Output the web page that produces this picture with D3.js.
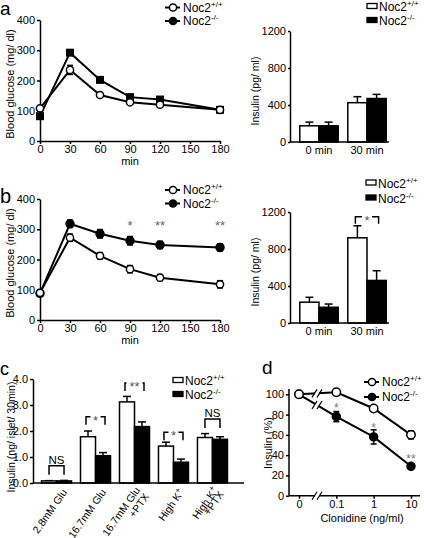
<!DOCTYPE html>
<html><head><meta charset="utf-8">
<script src="https://cdn.jsdelivr.net/npm/d3@7"></script>
<style>body{margin:0;background:#fff} svg{display:block} text{font-family:"Liberation Sans",Arial,Helvetica,sans-serif;fill:#000}</style>
</head><body>
<svg id="c" width="424" height="538"></svg>
<script>
// ---------- data ----------
const times = [0, 30, 60, 90, 120, 180];
const timeTicks = [0, 30, 60, 90, 120, 150, 180];
const glucoseTicks = [0, 100, 200, 300, 400];
const aWT = [108, 235, 152, 128, 120, 103];
const aWTerr = [5, 15, 6, 5, 5, 4];
const aKO = [82, 292, 202, 145, 137, 103];
const aKOerr = [8, 8, 6, 6, 6, 4];
const bWT = [90, 272, 212, 168, 140, 118];
const bWTerr = [8, 12, 10, 12, 10, 12];
const bKO = [88, 318, 285, 262, 248, 240];
const bKOerr = [8, 12, 14, 14, 12, 12];
const bStarTimes = [90, 120, 180];
const bStarText = ["*", "**", "**"];
const bStarLevel = 322;

const insGroups = ["0 min", "30 min"];
const insTicks = [0, 400, 800, 1200];
const aInsWT = [175, 425], aInsWTerr = [40, 65];
const aInsKO = [175, 470], aInsKOerr = [40, 45];
const bInsWT = [225, 921], bInsWTerr = [53, 130];
const bInsKO = [170, 460], bInsKOerr = [35, 105];
const bInsSig = [null, "*"], bInsSigLevel = [null, 1150];

const cGroups = ["2.8mM Glu", "16.7mM Glu", "16.7mM Glu|+PTX", "High K+", "High K+|+PTX"];
const cTicks = [0, 1, 2, 3, 4];
const cWT = [0.08, 1.78, 3.12, 1.42, 1.75];
const cWTerr = [0.01, 0.22, 0.21, 0.15, 0.15];
const cKO = [0.08, 1.05, 2.17, 0.80, 1.68];
const cKOerr = [0.02, 0.12, 0.18, 0.12, 0.10];
const cSig = ["NS", "*", "**", "*", "NS"];
const cSigLevel = [0.66, 2.55, 3.85, 1.95, 2.46];

const dDoses = ["0", "0.1", "1", "10"];
const dTicks = [0, 20, 40, 60, 80, 100];
const dWT = [100, 102, 86, 60], dWTerr = [3, 3, 2, 4];
const dKO = [100, 78, 58, 29], dKOerr = [3, 5, 7, 2];
const dStar = [null, "*", "*", "**"], dStarLevel = [null, 86, 67, 36];

// ---------- helpers ----------
const svg = d3.select("#c");
const F = 11;
function styleAxis(g) {
  g.selectAll("path,line").attr("stroke", "#000").attr("stroke-width", 1.5);
  g.selectAll("text").attr("font-size", F).attr("font-family", '"Liberation Sans",Arial,sans-serif');
}
function label(x, y, t, size, anchor, rot, fill) {
  const s = svg.append("text").attr("x", x).attr("y", y).attr("font-size", size)
    .attr("text-anchor", anchor || "start").text(t);
  if (rot) s.attr("transform", `rotate(${rot},${x},${y})`);
  if (fill) s.style("fill", fill);
  return s;
}
function nocText(x, y, sup) {
  const t = svg.append("text").attr("x", x).attr("y", y).attr("font-size", 12);
  t.append("tspan").text("Noc2");
  t.append("tspan").attr("font-size", 8).attr("dy", -5).text(sup);
  return t;
}
function lineLegend(x, y1, y2) {
  [[y1, "#fff", "+/+"], [y2, "#000", "-/-"]].forEach(([y, f, s]) => {
    svg.append("line").attr("x1", x).attr("x2", x + 15).attr("y1", y - 4).attr("y2", y - 4).attr("stroke", "#000").attr("stroke-width", 2);
    svg.append("circle").attr("cx", x + 8).attr("cy", y - 4).attr("r", 3.6).attr("fill", f).attr("stroke", "#000").attr("stroke-width", 1.5);
    nocText(x + 18, y, s);
  });
}
function barLegend(x, y1, y2) {
  [[y1, "#fff", "+/+"], [y2, "#000", "-/-"]].forEach(([y, f, s]) => {
    svg.append("rect").attr("x", x).attr("y", y - 7.5).attr("width", 10).attr("height", 5).attr("fill", f).attr("stroke", "#000").attr("stroke-width", 1.3);
    nocText(x + 12, y, s);
  });
}
function errBar(g, x, y0, y1, cap, both, y2) {
  g.append("line").attr("x1", x).attr("x2", x).attr("y1", both ? y2 : y0).attr("y2", y1).attr("stroke", "#000").attr("stroke-width", 1.5);
  g.append("line").attr("x1", x - cap / 2).attr("x2", x + cap / 2).attr("y1", y1).attr("y2", y1).attr("stroke", "#000").attr("stroke-width", 1.5);
  if (both) g.append("line").attr("x1", x - cap / 2).attr("x2", x + cap / 2).attr("y1", y2).attr("y2", y2).attr("stroke", "#000").attr("stroke-width", 1.5);
}
function sigBracket(g, xa, xb, yy, s, leg) {
  const xm = (xa + xb) / 2, gap = s.length * 3 + 2;
  g.append("path").attr("d", `M${xa},${yy + leg}V${yy}H${xm - gap}M${xm + gap},${yy}H${xb}V${yy + leg}`)
    .attr("fill", "none").attr("stroke", "#000").attr("stroke-width", 1.5);
  label(xm, yy + 8, s, 13, "middle", 0, "#555");
}

// ---------- glucose line panels ----------
function glucosePanel(cfg) {
  const x = d3.scaleLinear().domain([0, 180]).range([40, 220]);
  const y = d3.scaleLinear().domain([0, 400]).range([cfg.y0, cfg.y0 - 121]);
  const g = svg.append("g");
  g.append("g").attr("transform", `translate(0,${cfg.y0})`)
    .call(d3.axisBottom(x).tickValues(timeTicks).tickSize(3).tickSizeOuter(0).tickPadding(1)).call(styleAxis);
  g.append("g").attr("transform", `translate(40,0)`)
    .call(d3.axisLeft(y).tickValues(glucoseTicks).tickSize(3).tickSizeOuter(0).tickPadding(2)).call(styleAxis);
  label(130, cfg.y0 + 23.5, "min", F, "middle");
  label(14, cfg.y0 - 57, "Blood glucose (mg/ dl)", F, "middle", -90);
  const line = d3.line().x((d, i) => x(times[i])).y(d => y(d));
  [cfg.wt, cfg.ko].forEach(vals => {
    g.append("path").attr("d", line(vals)).attr("fill", "none").attr("stroke", "#000").attr("stroke-width", 2);
  });
  [[cfg.ko, cfg.koErr, "ko"], [cfg.wt, cfg.wtErr, "wt"]].forEach(([vals, err, k]) => {
    vals.forEach((v, i) => {
      errBar(g, x(times[i]), y(v), y(v + err[i]), 6, true, y(v - err[i]));
      if (k === "ko" && cfg.square) {
        g.append("rect").attr("x", x(times[i]) - 4).attr("y", y(v) - 4).attr("width", 8).attr("height", 8).attr("fill", "#000");
      } else {
        g.append("circle").attr("cx", x(times[i])).attr("cy", y(v)).attr("r", k === "ko" ? 4 : 3.6)
          .attr("fill", k === "ko" ? "#000" : "#fff").attr("stroke", "#000").attr("stroke-width", 1.5);
      }
    });
  });
  if (cfg.stars) cfg.stars.forEach((s, i) => {
    label(x(cfg.starTimes[i]), y(cfg.starLevel) + 7, s, 13, "middle", 0, "#666");
  });
}
glucosePanel({ y0: 141, wt: aWT, wtErr: aWTerr, ko: aKO, koErr: aKOerr, square: true });
glucosePanel({ y0: 320, wt: bWT, wtErr: bWTerr, ko: bKO, koErr: bKOerr, stars: bStarText, starTimes: bStarTimes, starLevel: bStarLevel });
lineLegend(165, 11.5, 25);
lineLegend(165, 194, 207.5);

// ---------- insulin bar panels ----------
function insPanel(cfg) {
  const xg = d3.scaleBand().domain(insGroups).range([295, 391]).paddingInner(0.2).paddingOuter(0.1);
  const y = d3.scaleLinear().domain([0, 1200]).range([cfg.y0, cfg.y0 - 111]);
  const g = svg.append("g");
  const bw = xg.bandwidth() / 2;
  insGroups.forEach((grp, i) => {
    [[cfg.wt, cfg.wtErr, "#fff", 0], [cfg.ko, cfg.koErr, "#000", 1]].forEach(([v, e, f, j]) => {
      const bx = xg(grp) + j * bw;
      errBar(g, bx + bw / 2, y(v[i]), y(v[i] + e[i]), 8);
      g.append("rect").attr("x", bx).attr("y", y(v[i])).attr("width", bw).attr("height", cfg.y0 - y(v[i]))
        .attr("fill", f).attr("stroke", "#000").attr("stroke-width", 1.5);
    });
    if (cfg.sig && cfg.sig[i]) {
      sigBracket(g, xg(grp) + bw / 2 - 2, xg(grp) + 1.5 * bw + 2, y(cfg.sigLevel[i]), cfg.sig[i], 7);
    }
  });
  g.append("g").attr("transform", `translate(0,${cfg.y0})`)
    .call(d3.axisBottom(xg).tickSize(0).tickPadding(4)).call(styleAxis).call(a => a.select(".domain").remove());
  g.append("line").attr("x1", 290).attr("x2", 389).attr("y1", cfg.y0).attr("y2", cfg.y0).attr("stroke", "#000").attr("stroke-width", 1.5);
  g.append("g").attr("transform", `translate(290,0)`)
    .call(d3.axisLeft(y).tickValues(insTicks).tickFormat(d3.format("d")).tickSize(2).tickSizeOuter(0).tickPadding(2)).call(styleAxis);
  label(259, cfg.y0 - 51, "Insulin (pg/ ml)", 10.5, "middle", -90);
}
insPanel({ y0: 142, wt: aInsWT, wtErr: aInsWTerr, ko: aInsKO, koErr: aInsKOerr });
insPanel({ y0: 323, wt: bInsWT, wtErr: bInsWTerr, ko: bInsKO, koErr: bInsKOerr, sig: bInsSig, sigLevel: bInsSigLevel });
barLegend(367, 11, 25);
barLegend(366, 187.5, 202.5);

// ---------- panel c ----------
(function () {
  const xg = d3.scaleBand().domain(cGroups).range([31, 238]).paddingInner(0.23).paddingOuter(0.27);
  const y = d3.scaleLinear().domain([0, 4]).range([483, 379]);
  const g = svg.append("g");
  const bw = xg.bandwidth() / 2;
  cGroups.forEach((grp, i) => {
    [[cWT, cWTerr, "#fff", 0], [cKO, cKOerr, "#000", 1]].forEach(([v, e, f, j]) => {
      const bx = xg(grp) + j * bw;
      errBar(g, bx + bw / 2, y(v[i]), y(v[i] + e[i]), 8);
      g.append("rect").attr("x", bx).attr("y", y(v[i])).attr("width", bw).attr("height", 483 - y(v[i]))
        .attr("fill", f).attr("stroke", "#000").attr("stroke-width", 1.5);
    });
    const yy = y(cSigLevel[i]);
    if (cSig[i] === "NS") {
      const xa = xg(grp) + bw / 2, xb = xg(grp) + 1.5 * bw, xm = (xa + xb) / 2;
      g.append("path").attr("d", `M${xa},${yy + 9}V${yy}H${xb}V${yy + 9}`).attr("fill", "none").attr("stroke", "#000").attr("stroke-width", 1.5);
      label(xm, yy - 2, "NS", 11.5, "middle");
    } else {
      sigBracket(g, xg(grp) + bw / 2 - 2, xg(grp) + 1.5 * bw + 2, yy, cSig[i], 8);
    }
    // rotated category labels
    const parts = grp.split("|");
    const cx = xg(grp) + xg.bandwidth() / 2 + 5;
    const t = svg.append("text").attr("font-size", 10.5).attr("text-anchor", "end")
      .attr("transform", `translate(${cx - (parts.length - 1) * 5},${488 - (parts.length - 1) * 2}) rotate(-55)`);
    parts.forEach((p, k) => {
      const ts = t.append("tspan").attr("x", 0).attr("dy", k === 0 ? "0.7em" : "1.05em");
      if (p.endsWith("K+")) {
        ts.text(p.slice(0, -1));
        t.append("tspan").attr("font-size", 8).attr("dy", -4).text("+");
        t.append("tspan").attr("font-size", 10.5).attr("dy", 4).text("");
      } else ts.text(p);
    });
  });
  g.append("line").attr("x1", 33).attr("x2", 244).attr("y1", 483).attr("y2", 483).attr("stroke", "#000").attr("stroke-width", 1.5);
  g.append("g").attr("transform", `translate(33,0)`)
    .call(d3.axisLeft(y).tickValues(cTicks).tickSize(3).tickSizeOuter(0).tickPadding(2)).call(styleAxis);
  label(15, 437, "Insulin (ng/ islet/ 30min)", 10.5, "middle", -90);
  barLegend(173, 385, 399);
})();

// ---------- panel d ----------
(function () {
  const x = d3.scalePoint().domain(dDoses).range([299, 411]);
  const y = d3.scaleLinear().domain([0, 100]).range([495.7, 394.3]);
  const g = svg.append("g");
  g.append("g").attr("transform", `translate(0,495.7)`)
    .call(d3.axisBottom(x).tickSize(3).tickSizeOuter(0).tickPadding(2)).call(styleAxis).call(a => a.select(".domain").remove());
  g.append("line").attr("x1", 289).attr("x2", 420).attr("y1", 495.7).attr("y2", 495.7).attr("stroke", "#000").attr("stroke-width", 1.5);
  g.append("g").attr("transform", `translate(289,0)`)
    .call(d3.axisLeft(y).tickValues(dTicks).tickSize(3).tickSizeOuter(0).tickPadding(2)).call(styleAxis)
    .call(a => a.select(".domain").attr("d", "M0,389V495.7"));
  label(362, 522, "Clonidine (ng/ml)", F, "middle");
  label(272, 443, "Insulin (%)", F, "middle", -90);
  const line = d3.line().x((d, i) => x(dDoses[i])).y(d => y(d));
  g.append("path").attr("d", line(dWT)).attr("fill", "none").attr("stroke", "#000").attr("stroke-width", 2);
  g.append("path").attr("d", line(dKO)).attr("fill", "none").attr("stroke", "#000").attr("stroke-width", 2);
  // axis break marks
  const bx = 317;
  const br = (yy) => {
    g.append("rect").attr("x", bx - 2).attr("y", yy - 5).attr("width", 4).attr("height", 10).attr("fill", "#fff");
    [-2.5, 2.5].forEach(o => g.append("line").attr("x1", bx + o - 2.5).attr("x2", bx + o + 2.5).attr("y1", yy + 4).attr("y2", yy - 4).attr("stroke", "#000").attr("stroke-width", 1.2));
  };
  const f = (bx - x("0")) / (x("0.1") - x("0"));
  br(495.7);
  br(y(dWT[0] + (dWT[1] - dWT[0]) * f));
  br(y(dKO[0] + (dKO[1] - dKO[0]) * f));
  [[dKO, dKOerr, "#000", 4], [dWT, dWTerr, "#fff", 4.2]].forEach(([v, e, fill, r]) => {
    v.forEach((val, i) => {
      const cx = x(dDoses[i]);
      errBar(g, cx, y(val), y(val + e[i]), 6, true, y(val - e[i]));
      g.append("circle").attr("cx", cx).attr("cy", y(val)).attr("r", r).attr("fill", fill).attr("stroke", "#000").attr("stroke-width", 1.5);
    });
  });
  dStar.forEach((s, i) => { if (s) label(x(dDoses[i]), y(dStarLevel[i]) + 4, s, 12, "middle", 0, "#777"); });
  lineLegend(364, 386, 401);
})();

// panel letters
label(0, 15, "a", 19);
label(0, 203, "b", 20);
label(0, 375, "c", 18);
label(262, 374, "d", 19);
</script>
</body></html>
